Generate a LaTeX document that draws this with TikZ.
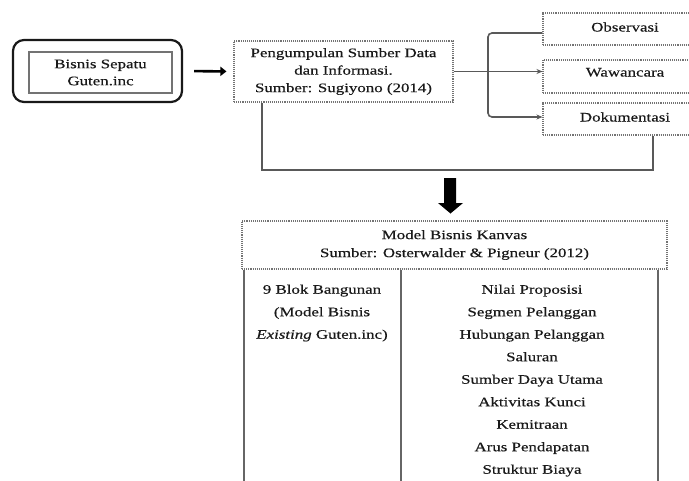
\documentclass[tikz,border=0pt]{standalone}
\usepackage{fontspec}
\setmainfont{Liberation Serif}[FakeStretch=1.3, FakeBold=0.4]
\usetikzlibrary{arrows.meta,calc}
\begin{document}
\begin{tikzpicture}[x=1pt,y=-1pt,
  every node/.style={font=\fontsize{13}{17.5}\selectfont, text=black!90},
  dotbox/.style={draw=black!55, densely dotted, line width=1.1pt, inner sep=0pt, align=center},
  conn/.style={draw=black!65, line width=1.6pt},
  arr/.style={conn, -{Stealth[length=6pt,width=5pt]}},
  tline/.style={draw=black!60, line width=1.8pt}]
\path[use as bounding box, clip] (0,0) rectangle (689,480);
\fill[white] (0,0) rectangle (689,480);
% left box
\node[draw=black!90, line width=2.2pt, rounded corners=11pt, minimum width=169pt, minimum height=62pt, inner sep=0pt] (outer) at (97.5,71) {};
\node[draw=black!55, line width=1.4pt, minimum width=143pt, minimum height=41pt, inner sep=0pt, align=center,
      font=\fontsize{13}{17}\selectfont] (inner) at (100.5,72.5) {Bisnis Sepatu\\Guten.inc};
% data collection box
\node[dotbox, minimum width=219pt, minimum height=61pt] (peng) at (343.5,71.5)
  {Pengumpulan Sumber Data\\dan Informasi.\\Sumber: Sugiyono (2014)};
% right boxes
\node[dotbox, minimum width=164pt, minimum height=32pt, text height=18.5pt, text depth=13.5pt] (obs) at (625,29) {Observasi};
\node[dotbox, minimum width=164pt, minimum height=33pt, text height=16.5pt, text depth=16.5pt] (waw) at (625,76.5) {Wawancara};
\node[dotbox, minimum width=164pt, minimum height=32pt, text height=18.5pt, text depth=13.5pt] (dok) at (625,119) {Dokumentasi};
% arrow from left box
\draw[draw=black, line width=2.6pt, -{Triangle[length=6pt,width=9pt]}, shorten <=11pt, shorten >=7pt] (outer.east) -- (peng.west);
% fork
\coordinate (fork) at (488,72);
\draw[arr] (peng.east) -- (peng.east -| waw.west);
\draw[arr, rounded corners=4pt] ([yshift=-4pt]obs.west) -| (fork) |- ([yshift=2pt]dok.west);
% loop back
\coordinate (loopL) at (262,170);
\draw[conn] ([xshift=28pt]dok.south) |- (loopL) -- (loopL |- peng.south);
% big down arrow
\fill[black] (444,178) -- (456,178) -- (456,203) -- (463,203) -- (450.5,213.5) -- (438,203) -- (444,203) -- cycle;
% model box
\node[dotbox, minimum width=425pt, minimum height=48pt, font=\fontsize{13}{18}\selectfont] (model) at (454.5,245)
  {Model Bisnis Kanvas\\Sumber: Osterwalder \& Pigneur (2012)};
% table
\coordinate (tL) at (244,269.5);
\coordinate (tM) at (401,269.5);
\coordinate (tR) at (658,269.5);
\draw[tline] (tL) -- ++(0,220);
\draw[tline] (tM) -- ++(0,220);
\draw[tline] (tR) -- ++(0,220);
\node[anchor=north, inner sep=0pt, align=center, font=\fontsize{13}{22.5}\selectfont] (left) at (322,284.5)
  {9 Blok Bangunan\\(Model Bisnis\\\textit{Existing} Guten.inc)};
\node[anchor=north, inner sep=0pt, align=center, font=\fontsize{13}{22.5}\selectfont] (right) at (532,284.5)
  {Nilai Proposisi\\Segmen Pelanggan\\Hubungan Pelanggan\\Saluran\\Sumber Daya Utama\\Aktivitas Kunci\\Kemitraan\\Arus Pendapatan\\Struktur Biaya};
\end{tikzpicture}
\end{document}
